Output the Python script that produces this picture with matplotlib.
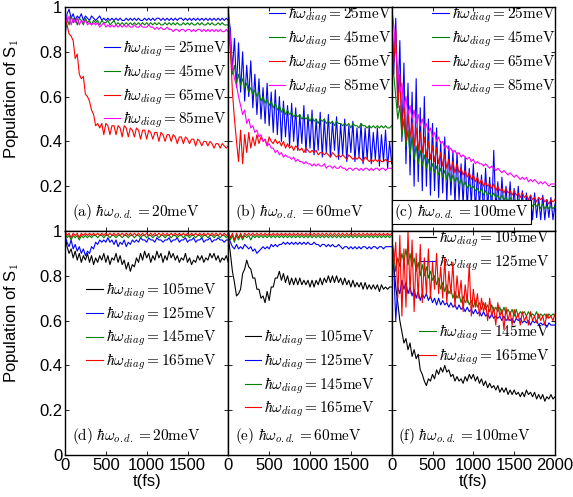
import numpy as np
import matplotlib
matplotlib.use('Agg')
import matplotlib.pyplot as plt

plt.rcParams['font.family'] = ['Liberation Sans', 'DejaVu Sans']
plt.rcParams['mathtext.fontset'] = 'cm'

# ---- data (population of S1 vs time, 0..2000 fs) ----
# panel (a): hbar w_o.d. = 20 meV
a_25 = [0.86, 0.97, 0.99, 0.95, 0.97, 0.94, 0.96, 0.95, 0.97, 0.94,
        0.96, 0.95, 0.94, 0.96, 0.95, 0.94, 0.95, 0.96, 0.94, 0.95,
        0.94, 0.95, 0.94, 0.95, 0.94, 0.95, 0.94, 0.95, 0.94, 0.94,
        0.95, 0.94, 0.95, 0.94, 0.95, 0.94, 0.95, 0.94, 0.94, 0.95,
        0.94, 0.95, 0.94, 0.95, 0.94, 0.95, 0.95, 0.94, 0.95, 0.94,
        0.95, 0.94, 0.95, 0.94, 0.95, 0.94, 0.95, 0.95, 0.94, 0.95,
        0.94, 0.95, 0.94, 0.95, 0.94, 0.95, 0.94, 0.95, 0.94, 0.95,
        0.94, 0.95, 0.94, 0.95, 0.94, 0.95, 0.94, 0.95, 0.94, 0.95, 0.94]
a_45 = [0.88, 0.95, 0.92, 0.96, 0.93, 0.95, 0.92, 0.95, 0.94, 0.92,
        0.95, 0.93, 0.94, 0.92, 0.94, 0.93, 0.94, 0.92, 0.94, 0.93,
        0.93, 0.94, 0.92, 0.93, 0.94, 0.92, 0.93, 0.92, 0.93, 0.92,
        0.93, 0.92, 0.93, 0.92, 0.93, 0.92, 0.93, 0.92, 0.93, 0.92,
        0.93, 0.92, 0.93, 0.92, 0.93, 0.92, 0.93, 0.92, 0.92, 0.93,
        0.92, 0.93, 0.92, 0.93, 0.92, 0.93, 0.92, 0.92, 0.93, 0.92,
        0.93, 0.92, 0.93, 0.92, 0.92, 0.93, 0.92, 0.93, 0.92, 0.92,
        0.93, 0.92, 0.93, 0.92, 0.92, 0.93, 0.92, 0.93, 0.92, 0.92, 0.92]
a_65 = [0.95, 0.92, 0.88, 0.87, 0.85, 0.77, 0.79, 0.70, 0.68, 0.69,
        0.61, 0.60, 0.58, 0.54, 0.52, 0.47, 0.48, 0.46, 0.48, 0.43,
        0.48, 0.47, 0.43, 0.47, 0.47, 0.43, 0.47, 0.46, 0.42, 0.47,
        0.46, 0.42, 0.46, 0.45, 0.42, 0.46, 0.45, 0.41, 0.45, 0.45,
        0.41, 0.45, 0.44, 0.41, 0.44, 0.44, 0.40, 0.44, 0.43, 0.40,
        0.43, 0.43, 0.40, 0.43, 0.42, 0.39, 0.42, 0.42, 0.39, 0.42,
        0.41, 0.39, 0.41, 0.41, 0.38, 0.41, 0.40, 0.38, 0.40, 0.40,
        0.38, 0.40, 0.39, 0.37, 0.39, 0.39, 0.37, 0.39, 0.38, 0.37, 0.38]
a_85 = [0.97, 0.93, 0.96, 0.92, 0.95, 0.93, 0.95, 0.92, 0.94, 0.93,
        0.94, 0.92, 0.93, 0.92, 0.93, 0.92, 0.93, 0.91, 0.92, 0.93,
        0.91, 0.92, 0.91, 0.92, 0.91, 0.92, 0.91, 0.92, 0.91, 0.92,
        0.91, 0.92, 0.91, 0.91, 0.92, 0.91, 0.91, 0.92, 0.91, 0.91,
        0.91, 0.92, 0.91, 0.91, 0.90, 0.91, 0.90, 0.91, 0.90, 0.90,
        0.91, 0.90, 0.90, 0.89, 0.90, 0.90, 0.89, 0.90, 0.90, 0.89,
        0.90, 0.90, 0.89, 0.90, 0.89, 0.90, 0.90, 0.89, 0.90, 0.89,
        0.90, 0.89, 0.90, 0.89, 0.90, 0.89, 0.90, 0.89, 0.89, 0.90, 0.89]

# panel (b): hbar w_o.d. = 60 meV
b_25 = [0.97, 0.90, 0.72, 0.86, 0.64, 0.84, 0.62, 0.80, 0.58, 0.74,
        0.60, 0.76, 0.55, 0.70, 0.52, 0.68, 0.50, 0.64, 0.48, 0.66,
        0.47, 0.62, 0.44, 0.63, 0.43, 0.60, 0.40, 0.58, 0.42, 0.56,
        0.38, 0.57, 0.40, 0.55, 0.36, 0.52, 0.39, 0.56, 0.35, 0.52,
        0.37, 0.54, 0.34, 0.50, 0.36, 0.53, 0.33, 0.50, 0.35, 0.52,
        0.33, 0.49, 0.36, 0.51, 0.32, 0.48, 0.34, 0.50, 0.31, 0.47,
        0.35, 0.49, 0.31, 0.46, 0.33, 0.48, 0.30, 0.46, 0.32, 0.47,
        0.30, 0.44, 0.32, 0.46, 0.29, 0.43, 0.31, 0.45, 0.28, 0.40, 0.30]
b_45 = [0.95, 0.80, 0.70, 0.74, 0.66, 0.70, 0.65, 0.68, 0.64, 0.66,
        0.62, 0.64, 0.61, 0.63, 0.60, 0.62, 0.58, 0.60, 0.57, 0.59,
        0.56, 0.58, 0.55, 0.57, 0.54, 0.56, 0.53, 0.55, 0.52, 0.54,
        0.52, 0.53, 0.51, 0.52, 0.51, 0.52, 0.50, 0.51, 0.50, 0.51,
        0.49, 0.51, 0.49, 0.50, 0.48, 0.50, 0.49, 0.50, 0.48, 0.49,
        0.48, 0.49, 0.47, 0.49, 0.48, 0.48, 0.47, 0.48, 0.47, 0.48,
        0.46, 0.48, 0.47, 0.47, 0.46, 0.48, 0.47, 0.47, 0.46, 0.47,
        0.46, 0.47, 0.46, 0.47, 0.46, 0.47, 0.46, 0.47, 0.46, 0.46, 0.47]
b_65 = [0.97, 0.82, 0.62, 0.50, 0.40, 0.31, 0.45, 0.30, 0.43, 0.35,
        0.44, 0.37, 0.42, 0.38, 0.43, 0.39, 0.42, 0.40, 0.41, 0.38,
        0.42, 0.40, 0.39, 0.41, 0.39, 0.40, 0.38, 0.40, 0.37, 0.39,
        0.37, 0.38, 0.36, 0.38, 0.37, 0.36, 0.37, 0.35, 0.37, 0.36,
        0.35, 0.36, 0.35, 0.36, 0.34, 0.35, 0.35, 0.34, 0.35, 0.34,
        0.33, 0.35, 0.34, 0.33, 0.34, 0.33, 0.34, 0.33, 0.32, 0.34,
        0.33, 0.32, 0.33, 0.32, 0.33, 0.32, 0.31, 0.33, 0.32, 0.31,
        0.32, 0.31, 0.32, 0.31, 0.32, 0.31, 0.31, 0.32, 0.31, 0.31, 0.31]
b_85 = [1.00, 0.85, 0.73, 0.68, 0.65, 0.60, 0.56, 0.52, 0.54, 0.48,
        0.50, 0.46, 0.47, 0.44, 0.45, 0.42, 0.43, 0.40, 0.41, 0.38,
        0.39, 0.37, 0.37, 0.35, 0.36, 0.34, 0.35, 0.33, 0.34, 0.33,
        0.33, 0.32, 0.33, 0.31, 0.32, 0.31, 0.31, 0.30, 0.31, 0.30,
        0.30, 0.29, 0.30, 0.29, 0.30, 0.29, 0.29, 0.30, 0.28, 0.29,
        0.29, 0.28, 0.29, 0.28, 0.28, 0.29, 0.28, 0.28, 0.27, 0.28,
        0.28, 0.27, 0.28, 0.28, 0.27, 0.28, 0.27, 0.28, 0.28, 0.27,
        0.28, 0.27, 0.28, 0.28, 0.27, 0.28, 0.28, 0.27, 0.28, 0.28, 0.28]

# panel (c): hbar w_o.d. = 100 meV
c_25 = [1.00, 0.70, 0.95, 0.55, 0.85, 0.40, 0.75, 0.30, 0.66, 0.25,
        0.62, 0.20, 0.68, 0.22, 0.55, 0.18, 0.60, 0.20, 0.50, 0.16,
        0.48, 0.18, 0.46, 0.15, 0.40, 0.17, 0.42, 0.13, 0.38, 0.16,
        0.36, 0.12, 0.35, 0.14, 0.30, 0.12, 0.33, 0.10, 0.28, 0.12,
        0.30, 0.09, 0.26, 0.11, 0.25, 0.08, 0.28, 0.10, 0.24, 0.07,
        0.36, 0.09, 0.22, 0.07, 0.24, 0.08, 0.20, 0.06, 0.22, 0.08,
        0.19, 0.06, 0.20, 0.07, 0.18, 0.05, 0.17, 0.07, 0.16, 0.05,
        0.17, 0.06, 0.15, 0.05, 0.16, 0.05, 0.14, 0.06, 0.15, 0.05, 0.12]
c_45 = [0.95, 0.70, 0.60, 0.50, 0.56, 0.42, 0.50, 0.38, 0.45, 0.34,
        0.42, 0.32, 0.38, 0.30, 0.36, 0.29, 0.34, 0.28, 0.32, 0.27,
        0.30, 0.26, 0.29, 0.25, 0.28, 0.24, 0.27, 0.23, 0.26, 0.22,
        0.25, 0.22, 0.24, 0.21, 0.23, 0.20, 0.22, 0.19, 0.21, 0.19,
        0.20, 0.18, 0.19, 0.17, 0.19, 0.16, 0.18, 0.16, 0.17, 0.15,
        0.17, 0.15, 0.16, 0.14, 0.16, 0.14, 0.15, 0.13, 0.15, 0.13,
        0.14, 0.12, 0.14, 0.12, 0.13, 0.12, 0.13, 0.11, 0.13, 0.11,
        0.12, 0.11, 0.12, 0.10, 0.12, 0.10, 0.11, 0.10, 0.11, 0.10, 0.11]
c_65 = [1.00, 0.75, 0.90, 0.55, 0.70, 0.45, 0.58, 0.40, 0.52, 0.42,
        0.48, 0.38, 0.46, 0.36, 0.44, 0.35, 0.42, 0.33, 0.40, 0.32,
        0.38, 0.31, 0.37, 0.30, 0.35, 0.29, 0.34, 0.28, 0.32, 0.27,
        0.31, 0.26, 0.30, 0.26, 0.28, 0.25, 0.27, 0.24, 0.26, 0.23,
        0.25, 0.22, 0.24, 0.21, 0.23, 0.20, 0.22, 0.20, 0.21, 0.19,
        0.21, 0.18, 0.20, 0.18, 0.19, 0.17, 0.19, 0.17, 0.18, 0.16,
        0.18, 0.16, 0.17, 0.15, 0.17, 0.15, 0.16, 0.14, 0.16, 0.14,
        0.15, 0.13, 0.15, 0.14, 0.15, 0.13, 0.14, 0.12, 0.14, 0.13, 0.14]
c_85 = [1.00, 0.92, 0.80, 0.72, 0.62, 0.66, 0.55, 0.60, 0.52, 0.56,
        0.50, 0.54, 0.48, 0.52, 0.47, 0.50, 0.46, 0.48, 0.44, 0.46,
        0.42, 0.44, 0.40, 0.42, 0.39, 0.40, 0.37, 0.38, 0.36, 0.37,
        0.35, 0.36, 0.34, 0.35, 0.33, 0.34, 0.33, 0.32, 0.33, 0.31,
        0.32, 0.30, 0.31, 0.30, 0.30, 0.29, 0.30, 0.29, 0.28, 0.29,
        0.28, 0.27, 0.28, 0.27, 0.26, 0.27, 0.26, 0.25, 0.26, 0.25,
        0.24, 0.25, 0.24, 0.23, 0.24, 0.23, 0.24, 0.22, 0.23, 0.22,
        0.23, 0.22, 0.21, 0.22, 0.21, 0.22, 0.21, 0.20, 0.21, 0.21, 0.21]

# panel (d): hbar w_o.d. = 20 meV
d_105 = [0.98, 0.93, 0.90, 0.92, 0.88, 0.91, 0.87, 0.90, 0.86, 0.89,
         0.87, 0.90, 0.86, 0.89, 0.85, 0.88, 0.86, 0.89, 0.87, 0.90,
         0.86, 0.89, 0.85, 0.88, 0.87, 0.90, 0.86, 0.89, 0.85, 0.87,
         0.83, 0.86, 0.82, 0.85, 0.84, 0.88, 0.86, 0.90, 0.87, 0.91,
         0.88, 0.90, 0.86, 0.89, 0.87, 0.91, 0.88, 0.90, 0.86, 0.89,
         0.87, 0.91, 0.88, 0.90, 0.87, 0.89, 0.86, 0.88, 0.87, 0.90,
         0.86, 0.88, 0.85, 0.87, 0.86, 0.89, 0.87, 0.89, 0.86, 0.88,
         0.87, 0.90, 0.88, 0.90, 0.87, 0.89, 0.86, 0.88, 0.87, 0.89, 0.86]
d_125 = [0.98, 0.95, 0.93, 0.96, 0.92, 0.94, 0.91, 0.93, 0.90, 0.92,
         0.89, 0.91, 0.90, 0.93, 0.92, 0.95, 0.94, 0.96, 0.95, 0.96,
         0.95, 0.97, 0.95, 0.96, 0.94, 0.96, 0.93, 0.95, 0.94, 0.96,
         0.93, 0.95, 0.94, 0.96, 0.95, 0.96, 0.95, 0.97, 0.96, 0.96,
         0.95, 0.97, 0.96, 0.96, 0.95, 0.97, 0.96, 0.96, 0.95, 0.96,
         0.96, 0.97, 0.95, 0.96, 0.96, 0.97, 0.95, 0.96, 0.96, 0.97,
         0.95, 0.96, 0.96, 0.97, 0.95, 0.96, 0.96, 0.97, 0.95, 0.96,
         0.96, 0.97, 0.95, 0.96, 0.96, 0.97, 0.96, 0.96, 0.95, 0.96, 0.96]
d_145 = [0.99, 0.97, 0.98, 0.96, 0.98, 0.97, 0.98, 0.96, 0.98, 0.97,
         0.98, 0.97, 0.98, 0.97, 0.98, 0.98, 0.97, 0.98, 0.98, 0.97,
         0.98, 0.98, 0.97, 0.98, 0.98, 0.97, 0.98, 0.98, 0.97, 0.98,
         0.98, 0.97, 0.98, 0.98, 0.97, 0.98, 0.98, 0.97, 0.98, 0.98,
         0.97, 0.98, 0.98, 0.97, 0.98, 0.98, 0.97, 0.98, 0.98, 0.97,
         0.98, 0.98, 0.97, 0.98, 0.98, 0.97, 0.98, 0.98, 0.97, 0.98,
         0.98, 0.97, 0.98, 0.98, 0.97, 0.98, 0.98, 0.97, 0.98, 0.98,
         0.97, 0.98, 0.98, 0.97, 0.98, 0.98, 0.97, 0.98, 0.98, 0.97, 0.98]
d_165 = [1.00, 0.98, 0.99, 0.97, 0.99, 0.98, 0.99, 0.97, 0.99, 0.98,
         0.99, 0.98, 0.99, 0.98, 0.99, 0.98, 0.99, 0.98, 0.99, 0.98,
         0.99, 0.98, 0.99, 0.98, 0.99, 0.98, 0.99, 0.98, 0.99, 0.98,
         0.99, 0.98, 0.99, 0.98, 0.99, 0.98, 0.99, 0.98, 0.99, 0.98,
         0.99, 0.98, 0.99, 0.98, 0.99, 0.98, 0.99, 0.98, 0.99, 0.98,
         0.99, 0.98, 0.99, 0.98, 0.99, 0.98, 0.99, 0.98, 0.99, 0.98,
         0.99, 0.98, 0.99, 0.98, 0.99, 0.98, 0.99, 0.98, 0.99, 0.98,
         0.99, 0.98, 0.99, 0.98, 0.99, 0.98, 0.99, 0.98, 0.99, 0.98, 0.99]

# panel (e): hbar w_o.d. = 60 meV
e_105 = [0.97, 0.90, 0.82, 0.77, 0.71, 0.72, 0.74, 0.81, 0.83, 0.87,
         0.84, 0.83, 0.79, 0.79, 0.74, 0.74, 0.70, 0.71, 0.68, 0.73,
         0.69, 0.75, 0.75, 0.79, 0.79, 0.82, 0.78, 0.81, 0.77, 0.80,
         0.76, 0.79, 0.76, 0.79, 0.76, 0.79, 0.76, 0.78, 0.76, 0.78,
         0.75, 0.78, 0.75, 0.78, 0.76, 0.79, 0.76, 0.79, 0.77, 0.80,
         0.77, 0.80, 0.77, 0.80, 0.77, 0.79, 0.76, 0.79, 0.76, 0.78,
         0.75, 0.78, 0.75, 0.77, 0.75, 0.77, 0.74, 0.77, 0.74, 0.76,
         0.74, 0.76, 0.74, 0.76, 0.73, 0.76, 0.74, 0.75, 0.74, 0.75, 0.75]
e_125 = [0.98, 0.95, 0.93, 0.92, 0.94, 0.92, 0.93, 0.92, 0.94, 0.93,
         0.92, 0.93, 0.91, 0.92, 0.90, 0.91, 0.92, 0.93, 0.92, 0.93,
         0.92, 0.94, 0.93, 0.94, 0.93, 0.94, 0.94, 0.95, 0.94, 0.95,
         0.94, 0.95, 0.94, 0.95, 0.94, 0.95, 0.94, 0.95, 0.94, 0.95,
         0.94, 0.94, 0.95, 0.94, 0.94, 0.93, 0.94, 0.94, 0.93, 0.94,
         0.93, 0.94, 0.93, 0.93, 0.94, 0.93, 0.92, 0.93, 0.93, 0.92,
         0.93, 0.92, 0.93, 0.92, 0.93, 0.92, 0.93, 0.93, 0.92, 0.93,
         0.92, 0.93, 0.93, 0.92, 0.93, 0.93, 0.92, 0.93, 0.93, 0.93, 0.93]
e_145 = [0.99, 0.96, 0.98, 0.95, 0.98, 0.96, 0.98, 0.96, 0.98, 0.97,
         0.98, 0.96, 0.98, 0.97, 0.98, 0.97, 0.98, 0.97, 0.98, 0.97,
         0.98, 0.97, 0.98, 0.97, 0.98, 0.97, 0.98, 0.97, 0.98, 0.97,
         0.98, 0.97, 0.98, 0.97, 0.98, 0.97, 0.98, 0.97, 0.98, 0.97,
         0.98, 0.97, 0.98, 0.97, 0.98, 0.97, 0.98, 0.97, 0.98, 0.97,
         0.98, 0.97, 0.98, 0.97, 0.98, 0.97, 0.98, 0.97, 0.98, 0.97,
         0.98, 0.97, 0.98, 0.97, 0.98, 0.97, 0.98, 0.97, 0.98, 0.97,
         0.98, 0.97, 0.98, 0.97, 0.98, 0.97, 0.98, 0.97, 0.98, 0.97, 0.98]
e_165 = [1.00, 0.97, 0.99, 0.96, 0.99, 0.97, 0.99, 0.97, 0.99, 0.98,
         0.99, 0.98, 0.99, 0.98, 0.99, 0.98, 0.99, 0.98, 0.99, 0.98,
         0.99, 0.98, 0.99, 0.98, 0.99, 0.98, 0.99, 0.98, 0.99, 0.98,
         0.99, 0.98, 0.99, 0.98, 0.99, 0.98, 0.99, 0.98, 0.99, 0.98,
         0.99, 0.98, 0.99, 0.98, 0.99, 0.98, 0.99, 0.98, 0.99, 0.98,
         0.99, 0.98, 0.99, 0.98, 0.99, 0.98, 0.99, 0.98, 0.99, 0.98,
         0.99, 0.98, 0.99, 0.98, 0.99, 0.98, 0.99, 0.98, 0.99, 0.98,
         0.99, 0.98, 0.99, 0.98, 0.99, 0.98, 0.99, 0.98, 0.99, 0.98, 0.99]

# panel (f): hbar w_o.d. = 100 meV
f_105 = [0.97, 0.85, 0.75, 0.68, 0.60, 0.55, 0.50, 0.52, 0.47, 0.50,
         0.44, 0.47, 0.43, 0.45, 0.38, 0.36, 0.33, 0.31, 0.34, 0.33,
         0.36, 0.34, 0.38, 0.36, 0.39, 0.37, 0.40, 0.37, 0.38, 0.35,
         0.36, 0.33, 0.35, 0.33, 0.34, 0.32, 0.35, 0.33, 0.36, 0.34,
         0.36, 0.33, 0.35, 0.32, 0.34, 0.31, 0.33, 0.30, 0.32, 0.30,
         0.31, 0.29, 0.31, 0.28, 0.30, 0.28, 0.30, 0.27, 0.29, 0.27,
         0.29, 0.27, 0.28, 0.26, 0.28, 0.26, 0.29, 0.27, 0.28, 0.26,
         0.28, 0.25, 0.27, 0.25, 0.27, 0.24, 0.26, 0.25, 0.27, 0.25, 0.26]
f_125 = [0.98, 0.85, 0.60, 0.75, 0.72, 0.78, 0.74, 0.77, 0.72, 0.75,
         0.71, 0.74, 0.70, 0.73, 0.69, 0.72, 0.70, 0.72, 0.69, 0.71,
         0.68, 0.70, 0.67, 0.70, 0.67, 0.69, 0.67, 0.68, 0.66, 0.68,
         0.66, 0.67, 0.65, 0.67, 0.65, 0.66, 0.64, 0.66, 0.64, 0.65,
         0.63, 0.65, 0.63, 0.64, 0.62, 0.64, 0.62, 0.63, 0.61, 0.63,
         0.61, 0.62, 0.61, 0.62, 0.60, 0.62, 0.60, 0.61, 0.60, 0.61,
         0.59, 0.61, 0.60, 0.61, 0.59, 0.60, 0.59, 0.60, 0.58, 0.60,
         0.59, 0.60, 0.58, 0.59, 0.58, 0.59, 0.57, 0.59, 0.58, 0.58, 0.58]
f_145 = [0.97, 0.90, 0.82, 0.88, 0.84, 0.90, 0.86, 0.92, 0.85, 0.90,
         0.84, 0.88, 0.82, 0.86, 0.80, 0.85, 0.80, 0.84, 0.79, 0.82,
         0.78, 0.80, 0.76, 0.79, 0.74, 0.77, 0.73, 0.76, 0.72, 0.74,
         0.70, 0.73, 0.70, 0.72, 0.68, 0.71, 0.68, 0.70, 0.67, 0.69,
         0.66, 0.69, 0.66, 0.68, 0.65, 0.68, 0.65, 0.67, 0.64, 0.67,
         0.64, 0.66, 0.64, 0.66, 0.63, 0.66, 0.63, 0.65, 0.63, 0.65,
         0.62, 0.65, 0.62, 0.64, 0.63, 0.64, 0.62, 0.64, 0.62, 0.63,
         0.62, 0.64, 0.61, 0.63, 0.62, 0.63, 0.61, 0.63, 0.62, 0.63, 0.62]
f_165 = [1.00, 0.85, 0.95, 0.70, 0.98, 0.62, 0.92, 0.66, 1.00, 0.72,
         0.96, 0.64, 0.90, 0.70, 0.94, 0.68, 0.88, 0.72, 0.92, 0.70,
         0.86, 0.74, 0.90, 0.72, 0.84, 0.70, 0.88, 0.68, 0.82, 0.72,
         0.86, 0.66, 0.80, 0.70, 0.78, 0.64, 0.76, 0.68, 0.85, 0.62,
         0.74, 0.66, 0.72, 0.62, 0.70, 0.64, 0.68, 0.60, 0.70, 0.62,
         0.66, 0.58, 0.68, 0.62, 0.65, 0.56, 0.66, 0.60, 0.64, 0.58,
         0.65, 0.61, 0.63, 0.58, 0.64, 0.60, 0.62, 0.58, 0.64, 0.60,
         0.62, 0.59, 0.63, 0.60, 0.62, 0.58, 0.63, 0.61, 0.62, 0.60, 0.63]

top_energies = [25, 45, 65, 85]
bottom_energies = [105, 125, 145, 165]
od_energies = [20, 60, 100]
top_colors = ['#0000ff', '#008000', '#ff0000', '#ff00ff']
bottom_colors = ['#000000', '#0000ff', '#008000', '#ff0000']

panel_series = [[a_25, a_45, a_65, a_85], [b_25, b_45, b_65, b_85],
                [c_25, c_45, c_65, c_85], [d_105, d_125, d_145, d_165],
                [e_105, e_125, e_145, e_165], [f_105, f_125, f_145, f_165]]
panel_letters = ['a', 'b', 'c', 'd', 'e', 'f']

# legend anchors (axes coords, upper right corner)
legend_anchor = [(0.99, 0.86), (1.0, 1.01), (1.0, 1.01),
                 (0.93, 0.78), (0.90, 0.57), (0.97, 1.01)]

fig, axes = plt.subplots(2, 3, figsize=(5.73, 4.97), dpi=100)
fig.subplots_adjust(left=65 / 573, right=555 / 573, top=1 - 7 / 497,
                    bottom=1 - 455 / 497, wspace=0, hspace=0)

leg_kw = dict(frameon=False, fontsize=11, handlelength=1.1, handletextpad=0.2,
              labelspacing=0.22, borderpad=0, borderaxespad=0)

for i, ax in enumerate(axes.flat):
    row, col = divmod(i, 3)
    energies = top_energies if row == 0 else bottom_energies
    colors = top_colors if row == 0 else bottom_colors
    for y, e, c in zip(panel_series[i], energies, colors):
        t = np.linspace(0, 2000, len(y))
        ax.plot(t, y, color=c, lw=0.8, zorder=2,
                label=r'$\hbar\omega_{diag} = %d\mathrm{meV}$' % e)

    ax.set_xlim(0, 2000)
    ax.set_ylim(0, 1)
    ax.set_xticks([0, 500, 1000, 1500, 2000])
    ax.set_yticks([0, 0.2, 0.4, 0.6, 0.8, 1.0])
    ax.tick_params(direction='in', top=True, right=True, length=3,
                   width=0.6, labelsize=12, pad=2)
    for sp in ax.spines.values():
        sp.set_linewidth(1.0)

    if row == 0:
        ax.tick_params(labelbottom=False)
    else:
        if col == 2:
            ax.set_xticklabels(['0', '500', '1000', '1500', '2000'])
        else:
            ax.set_xticklabels(['0', '500', '1000', '1500', ''])
    if col == 0:
        if row == 0:
            ax.set_yticklabels(['', '0.2', '0.4', '0.6', '0.8', '1'])
        else:
            ax.set_yticklabels(['0', '0.2', '0.4', '0.6', '0.8', '1'])
        ax.set_ylabel(r'Population of S$_{\mathsf{1}}$', fontsize=12)
        ax.yaxis.set_label_coords(-0.27, 0.59)
    else:
        ax.tick_params(labelleft=False)
    if row == 1 and col != 1:
        ax.set_xlabel('t(fs)', fontsize=12, labelpad=1)

    handles, labels = ax.get_legend_handles_labels()
    if i == 5:
        leg1 = ax.legend(handles[:2], labels[:2], loc='upper right',
                         bbox_to_anchor=legend_anchor[i], **leg_kw)
        leg1.set_zorder(1)
        ax.add_artist(leg1)
        leg2 = ax.legend(handles[2:], labels[2:], loc='upper right',
                         bbox_to_anchor=(0.97, 0.59), **leg_kw)
        leg2.set_zorder(1)
    else:
        leg = ax.legend(loc='upper right', bbox_to_anchor=legend_anchor[i], **leg_kw)
        leg.set_zorder(1)

    txt = r'$\mathrm{(%s)}\ \hbar\omega_{o.d.} = %d\mathrm{meV}$' % (
        panel_letters[i], od_energies[col])
    if i == 2:
        ax.text(0.015, 0.085, txt, transform=ax.transAxes, fontsize=11,
                va='center', ha='left', zorder=5,
                bbox=dict(boxstyle='square,pad=0.15', fc='white', ec='black', lw=0.8))
    else:
        ax.text(0.04, 0.085, txt, transform=ax.transAxes, fontsize=11,
                va='center', ha='left')

fig.savefig('out.png', dpi=100)
